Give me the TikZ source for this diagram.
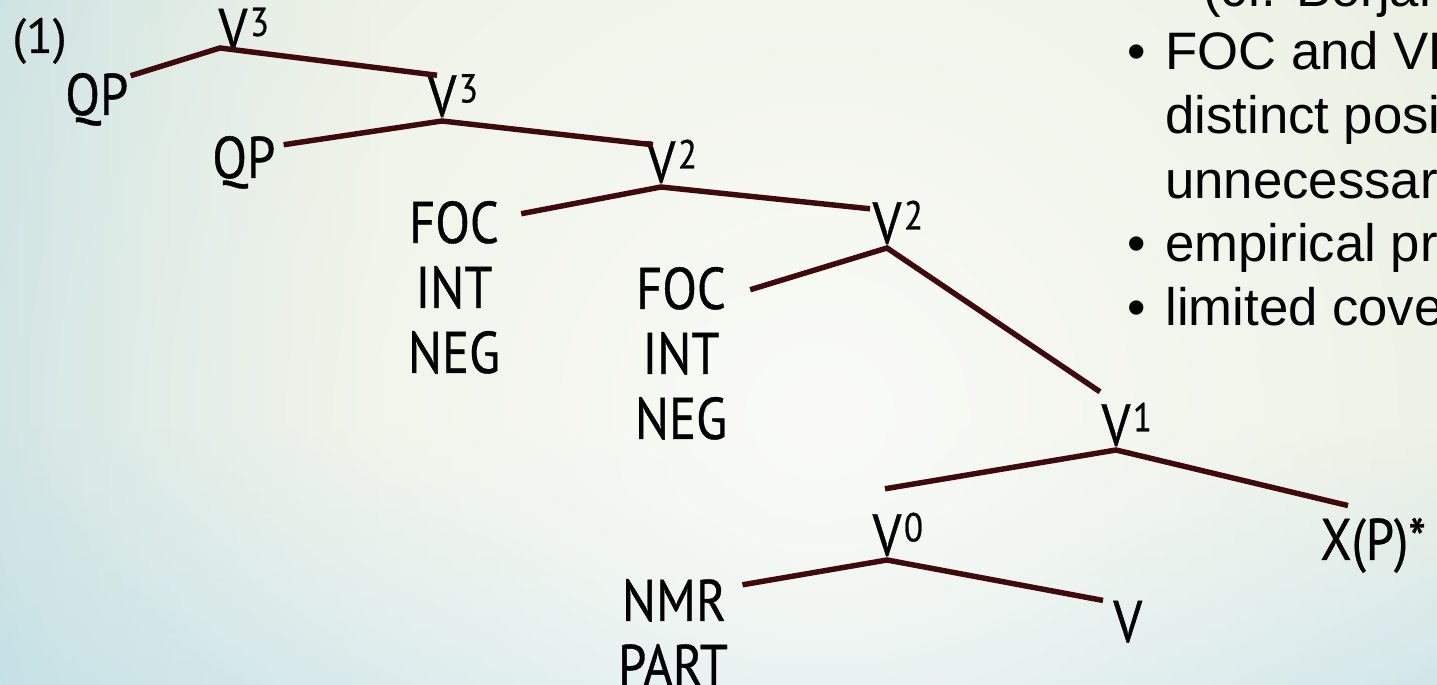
\documentclass[tikz,border=0pt]{standalone}
\usepackage{fontspec}
\setmainfont{Liberation Sans}
\newfontfamily\treefont[FakeStretch=0.86, FakeBold=0.6]{PT Sans}
\newfontfamily\exfont[FakeBold=0.4]{PT Sans}
\usetikzlibrary{fadings}

\definecolor{branchcol}{RGB}{62,10,12}
\definecolor{bgbase}{RGB}{229,236,219}
\definecolor{bgblue}{RGB}{184,218,226}
\definecolor{bgglow}{RGB}{250,251,247}

\tikzfading[name=fadeleft, left color=transparent!0, right color=transparent!100]
\tikzfading[name=fadebottom, bottom color=transparent!0, top color=transparent!100]
\tikzfading[name=fadeglow, inner color=transparent!0, outer color=transparent!100]

% bar level written after the V
\newcommand\lvl[1]{\rlap{\hspace{1.5pt}\raisebox{8pt}{\fontsize{23}{23}\selectfont #1}}}

\tikzset{
  lab/.style={inner sep=0pt, font=\treefont\fontsize{33.5}{33.5}\selectfont},
  head/.style={lab, anchor=south, inner ysep=2pt},
  leaf/.style={lab, anchor=base},
  branch/.style={draw=branchcol, line width=3.1pt},
  txt/.style={inner sep=0pt, anchor=base west, font=\fontsize{30}{36}\selectfont},
}

\begin{document}
\begin{tikzpicture}[x=0.02cm, y=-0.02cm]
    \useasboundingbox (0,0) rectangle (1437,685);

    % background
    \fill[bgbase] (0,0) rectangle (1437,685);
    \fill[bgblue, path fading=fadeleft, opacity=.7] (0,0) rectangle (380,685);
    \fill[bgblue, path fading=fadebottom] (0,430) rectangle (1437,685);
    \fill[bgglow, path fading=fadeglow] (820,420) circle (22cm);

    % tree
    \node[lab, anchor=base west, font=\exfont\fontsize{28}{28}\selectfont] (ex) at (12,53) {(1)};

    \node[head, inner ysep=0pt] (v3a) at (233,51) {V\lvl{3}};
    \node[head] (v3b) at (442,121) {V\lvl{3}};
    \node[head] (v2a) at (661,187) {V\lvl{2}};
    \node[head] (v2b) at (887,248) {V\lvl{2}};
    \node[head] (v1) at (1116,450) {V\lvl{1}};
    \node[head] (v0) at (887,560) {V\lvl{0}};

    \node[lab, anchor=base west] (qpa) at (65,115) {QP};
    \node[lab, anchor=base west] (qpb) at (212,178) {QP};

    \node[leaf] (foca) at (454,243) {FOC};
    \node[leaf] (inta) at (454,308) {INT};
    \node[leaf] (nega) at (454,373) {NEG};

    \node[leaf] (focb) at (681,309) {FOC};
    \node[leaf] (intb) at (681,374) {INT};
    \node[leaf] (negb) at (681,439) {NEG};

    \node[leaf] (nmr) at (674,621) {NMR};
    \node[leaf] (part) at (673,686) {PART};

    \node[lab, anchor=base west] (xp) at (1320,560) {X(P)*};
    \node[lab, anchor=base west] (verb) at (1113,642) {V};

    \draw[branch] ([shift={(2,3)}]qpa.north east) -- ([shift={(-13,-3)}]v3a.south) -- ([shift={(-5,5)}]v3b.north);
    \draw[branch] ([shift={(8,9)}]qpb.north east) -- (v3b.south) -- ([shift={(-8,9)}]v2a.north);
    \draw[branch] ([shift={(22,13)}]foca.north east) -- (v2a.south) -- ([shift={(-17,12)}]v2b.north);
    \draw[branch] ([shift={(24,23)}]focb.north east) -- (v2b.south) -- ([shift={(-16,-7)}]v1.north);
    \draw[branch] ([shift={(-2,-20)}]v0.north) -- (v1.south) -- ([shift={(28,-12)}]xp.north west);
    \draw[branch] ([shift={(16,6)}]nmr.north east) -- (v0.south) -- ([shift={(-10,0)}]verb.north west);

    % bullet points
    \node[txt] (cf) at (1203,7) {(cf. Borjars};
    \node[txt] (dot1) at (1127,70) {\textbullet};
    \node[txt] (t1) at (1165,70) {FOC and VP in};
    \node[txt] (t2) at (1165,134) {distinct positions};
    \node[txt] (t3) at (1165,199) {unnecessary};
    \node[txt] (dot2) at (1127,262) {\textbullet};
    \node[txt] (t4) at (1165,262) {empirical problems};
    \node[txt] (dot3) at (1127,326) {\textbullet};
    \node[txt] (t5) at (1165,326) {limited coverage};
\end{tikzpicture}
\end{document}
